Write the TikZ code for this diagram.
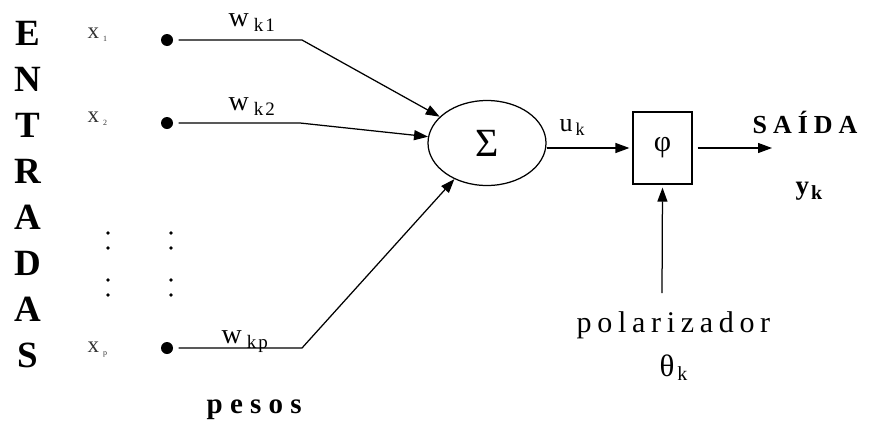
\documentclass[tikz,border=0pt]{standalone}
\usepackage{fontspec}
\setmainfont{Liberation Serif}
\usetikzlibrary{arrows.meta,shapes.geometric}
\newcommand{\fsz}[1]{\fontsize{#1}{#1}\selectfont}
\begin{document}
\begin{tikzpicture}[x=1pt,y=-1pt,line width=1.25pt,
  arr/.style={-{Triangle[length=14pt,width=10pt]}},
  inp/.style={circle,fill,inner sep=0pt,minimum size=12pt},
  vdot/.style={circle,fill,inner sep=0pt,minimum size=3.6pt},
  bigl/.style={font=\fsz{37}\bfseries,inner sep=0pt},
  xlab/.style={font=\fsz{23},text=black!80,inner sep=0pt,anchor=base west},
  wlab/.style={font=\fsz{28},inner sep=0pt,anchor=base west},
  plain/.style={inner sep=0pt,anchor=base west}]
\useasboundingbox (0,0) rectangle (874,426);
% ENTRADAS
\foreach \l [count=\i] in {E,N,T,R,A,D,A,S}
  \node[bigl] (L\i) at (28,{33+46*(\i-1)}) {\l};
% input labels
\node[xlab] (x1) at (87,38) {x\hspace{4pt}\raisebox{-3pt}{\fsz{8}1}};
\node[xlab] (x2) at (87,122) {x\hspace{4pt}\raisebox{-3pt}{\fsz{8}2}};
\node[xlab] (xp) at (87,352) {x\hspace{4pt}\raisebox{-3pt}{\fsz{8}p}};
% input dots
\node[inp] (d1) at (167,40) {};
\node[inp] (d2) at (167,123) {};
\node[inp] (dp) at (167,348) {};
% vertical ellipsis dots
\foreach \xx/\n in {108/a,171/b}{
  \node[vdot] (v\n1) at (\xx,233) {};
  \node[vdot] (v\n2) at (\xx,248) {};
  \node[vdot] (v\n3) at (\xx,280) {};
  \node[vdot] (v\n4) at (\xx,295) {};
}
% weights
\node[wlab] (w1) at (228,26) {w\hspace{5pt}\raisebox{-5pt}{\fsz{19}k\hspace{2pt}1}};
\node[wlab] (w2) at (228,110) {w\hspace{5pt}\raisebox{-5pt}{\fsz{19}k\hspace{2pt}2}};
\node[wlab] (wp) at (221,343) {w\hspace{5pt}\raisebox{-5pt}{\fsz{19}k\hspace{2pt}p}};
\coordinate (c1) at (302,40);
\coordinate (c2) at (300,123);
\coordinate (cp) at (302,348);
% summation
\node[draw,ellipse,minimum width=118pt,minimum height=85pt,inner sep=0pt,font=\fsz{40}] (sum) at (487,143) {Σ};
\draw[arr] ([xshift=5pt]d1.east) -- (c1) -- (sum);
\draw[arr] ([xshift=5pt]d2.east) -- (c2) -- (sum);
\draw[arr] ([xshift=5pt]dp.east) -- (cp) -- (sum);
% activation box
\node[draw,minimum width=59pt,minimum height=72pt,inner sep=0pt,font=\fsz{30}] (box) at (662.5,148) {φ};
\draw[arr,shorten >=3pt] (sum.east |- box.west) -- (box.west);
\node[plain,font=\fsz{26}] (uk) at (559,131) {u\hspace{3pt}\raisebox{-4pt}{\fsz{18}k}};
% output
\coordinate (out) at (772,148);
\draw[arr] ([xshift=5pt]box.east) -- (out);
\node[plain,font=\fsz{26}\bfseries\addfontfeature{LetterSpace=23}] (said) at (752,133) {SAÍDA};
\node[plain,font=\fsz{27}\bfseries] (yk) at (795,194) {y\hspace{2pt}\raisebox{-5pt}{\fsz{20}k}};
% bias
\coordinate (bias) at (662,293);
\draw[arr,shorten >=3pt] (bias) -- (box.south);
\node[plain,font=\fsz{30}\addfontfeature{LetterSpace=19}] (pol) at (576,332) {polarizador};
\node[plain,font=\fsz{31}] (th) at (659,376) {θ\hspace{3pt}\raisebox{-4pt}{\fsz{20}k}};
% pesos
\node[plain,font=\fsz{29}\bfseries\addfontfeature{LetterSpace=25}] (pesos) at (206,413) {pesos};
\end{tikzpicture}
\end{document}
